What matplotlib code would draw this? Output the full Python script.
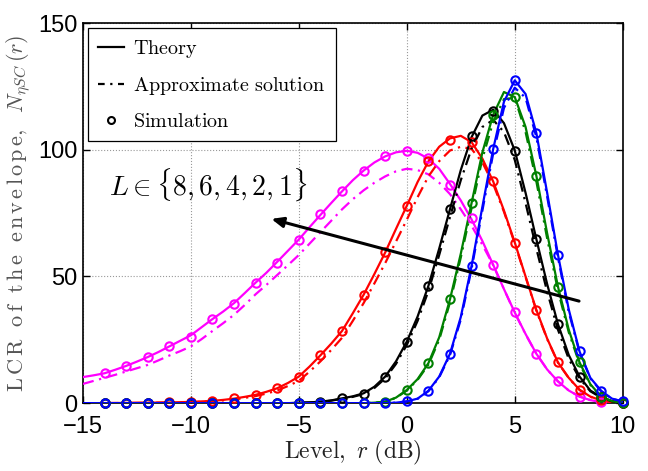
import numpy as np
import matplotlib
matplotlib.use("Agg")
import matplotlib.pyplot as plt
from matplotlib.lines import Line2D

plt.rcParams["mathtext.fontset"] = "cm"

# Level r (dB) for the theory / approximation curves, and for simulation markers
r_fine = np.arange(-15, 10.01, 0.5)
r_sim = np.arange(-14, 11, 1)

# Theory (solid), values read at 0.5 dB steps
th_L1 = [10.3, 11, 11.8, 13.2, 14.7, 16.4, 18.2, 20.2, 22.4, 24.6, 26.8, 30, 33.2, 36.2, 39.5,
         43.5, 47.6, 51.5, 55.8, 60.2, 64.6, 69.5, 74.3, 79, 83.6, 88, 91.8, 95, 97.4, 99, 99.6,
         98.8, 96.5, 92.5, 86.5, 80, 72.5, 64, 54.6, 45, 35.8, 27.3, 19.5, 13.3, 8.6, 5, 2.6,
         1.2, 0.4, 0.1, 0]
th_L2 = [0, 0, 0.05, 0.07, 0.1, 0.15, 0.2, 0.25, 0.3, 0.4, 0.5, 0.7, 0.9, 1.3, 1.8, 2.5, 3.3,
         4.5, 5.9, 8, 10.5, 14.5, 18.9, 23.5, 28.5, 35.5, 42.8, 51, 59.5, 68.8, 77.9, 87.3, 95.4,
         101.2, 104.5, 105.5, 103, 96.5, 87.5, 76, 63.4, 50, 36.8, 25.5, 16.1, 10, 5.3, 2.6,
         1.1, 0.4, 0.1]
th_L4 = [0] * 20 + [0.2, 0.3, 0.6, 1.1, 1.9, 2.7, 3.9, 6.5, 10.5, 16.5, 24.3, 34.2, 46.3, 61,
                    76.6, 92, 105, 113.5, 115.8, 110.5, 99.7, 83, 64.7, 47, 31.2, 19, 10.5, 5,
                    2.4, 0.8, 0.2]
th_L6 = [0] * 27 + [0.2, 0.6, 2.2, 5.2, 9.5, 15.8, 26, 41, 59, 79, 99, 113.8, 122.8, 120.8,
                    109, 89.7, 67, 46, 29, 16.1, 7.5, 2.6, 0.8, 0.2]
th_L8 = [0] * 29 + [0.2, 0.7, 1.8, 4.9, 10.5, 19.5, 34, 54.2, 77.5, 100.3, 119, 127.4, 122,
                    106.6, 83, 58.6, 37, 20.4, 10, 4.9, 1.8, 0.7]

# Approximate solution (dash-dot)
ap_L1 = [7.6, 8.8, 10, 11.2, 12.5, 13.8, 15.1, 16.9, 18.8, 20.5, 22.4, 25.3, 28.5, 31.6, 34.9,
         38.8, 43, 46.7, 50.6, 54.5, 58.5, 63, 67.5, 72, 76.5, 80.5, 84, 87, 89.5, 91.5, 92.5,
         92, 90.3, 87, 82.5, 76.5, 70, 62.5, 54.5, 45, 35.6, 27.2, 19.5, 13.3, 8.6, 5, 2.6,
         1.2, 0.4, 0.1, 0]
ap_L2 = [0, 0, 0.04, 0.06, 0.08, 0.12, 0.16, 0.2, 0.25, 0.32, 0.4, 0.55, 0.7, 1.1, 1.5, 2.1,
         2.8, 3.8, 5, 6.8, 8.8, 12.5, 16.5, 21, 25.8, 32.5, 39.5, 47.3, 55.3, 63.8, 72.4, 81.3,
         89.5, 95.5, 99.7, 101.2, 100.3, 95, 86.5, 75.5, 63, 49.8, 36.5, 25.3, 16, 9.9, 5.2,
         2.5, 1, 0.4, 0.1]
ap_L4 = [0] * 20 + [0.2, 0.3, 0.5, 1, 1.7, 2.5, 3.6, 6, 9.8, 15.5, 23, 32.5, 44.3, 58.5, 73.5,
                    88, 100.5, 109, 111.8, 107, 96, 79, 61, 44, 29, 17.5, 9.8, 4.7, 2.2, 0.7,
                    0.2]
ap_L6 = [0] * 27 + [0.2, 0.6, 2.1, 5, 9.2, 15.2, 25, 39.8, 57.5, 77, 96.5, 111, 120, 120.5,
                    107, 87.5, 65, 44.5, 28, 15.5, 7.2, 2.5, 0.8, 0.2]
ap_L8 = [0] * 29 + [0.2, 0.7, 1.7, 4.7, 10.2, 19, 33, 53, 76, 98.5, 116.5, 124.5, 120.5, 105,
                    81.5, 57.5, 36, 20, 9.8, 4.7, 1.7, 0.7]

# Simulation (circles), 1 dB steps from -14 to 10
sim_L1 = [11.8, 14.7, 18.2, 22.4, 26.3, 33.2, 39.2, 47.6, 55.5, 64.5, 74.6, 83.6, 91.8, 97.4,
          99.7, 96.7, 86.2, 73.0, 54.6, 35.8, 19.5, 8.6, 2.6, 0.3, 0.0]
sim_L2 = [0, 0.1, 0.2, 0.3, 0.4, 0.8, 1.9, 3.2, 5.8, 10.5, 18.9, 28.3, 42.8, 59.5, 77.9, 95.4,
          103.9, 102.9, 87.5, 63.4, 36.8, 16.1, 5.3, 1.1, 0.1]
sim_L4 = [0] * 9 + [0.2, 0.6, 2.0, 3.7, 10.5, 24.3, 46.3, 76.6, 105.3, 115.3, 99.7, 64.7, 31.2,
                    10.5, 2.4, 0.2]
sim_L6 = [0] * 12 + [0.2, 0.6, 5.2, 15.8, 41, 79, 113.8, 120.8, 89.7, 46, 16.1, 2.6, 0.2]
sim_L8 = [0] * 14 + [0.7, 4.9, 19.5, 54.2, 100.3, 127.4, 106.6, 58.6, 20.4, 4.9, 0.7]

series = [
    (th_L1, ap_L1, sim_L1, (1, 0, 1)),
    (th_L2, ap_L2, sim_L2, (1, 0, 0)),
    (th_L4, ap_L4, sim_L4, (0, 0, 0)),
    (th_L6, ap_L6, sim_L6, (0, 0.5, 0)),
    (th_L8, ap_L8, sim_L8, (0, 0, 1)),
]

fig = plt.figure(figsize=(6.48, 4.71), dpi=100)
ax = fig.add_axes([0.128, 0.144, 0.833, 0.807])

for th, ap, sim, col in series:
    ax.plot(r_fine, th, color=col, lw=1.6, zorder=3)
    ax.plot(r_fine, ap, color=col, lw=1.6, dashes=(5, 2.5, 1, 2.5), zorder=3)
    ax.plot(r_sim, sim, ls="none", marker="o", ms=6, mfc="none", mec=col, mew=1.5,
            zorder=4, clip_on=False)

ax.set_xlim(-15, 10)
ax.set_ylim(0, 150)
ax.set_xticks([-15, -10, -5, 0, 5, 10])
ax.set_yticks([0, 50, 100, 150])
ax.grid(True, ls=":", color="#999999", lw=0.8)
ax.tick_params(direction="in", top=True, right=True, length=5, width=1, labelsize=17)
ax.tick_params(axis="x", pad=9)
ax.tick_params(axis="y", pad=4)
for lab in ax.get_xticklabels() + ax.get_yticklabels():
    lab.set_family("Liberation Sans")
for sp in ax.spines.values():
    sp.set_linewidth(1.2)

ax.set_xlabel(r"$\mathrm{Level},\ r\ \mathrm{(dB)}$", fontsize=17, labelpad=0, color="#222222")
ax.set_ylabel(r"$\mathrm{L\,C\,R\ \ o\,f\ \ t\,h\,e\ \ e\,n\,v\,e\,l\,o\,p\,e,}\ \ N_{\eta SC}\,(r)$",
              fontsize=16, labelpad=4, color="#555555")

handles = [
    Line2D([], [], color="k", lw=1.6),
    Line2D([], [], color="k", lw=1.6, dashes=(3, 2.5, 1, 2.5)),
    Line2D([], [], ls="none", marker="o", ms=5, mfc="none", mec="k", mew=1.5),
]
labels = [r"$\mathrm{Theory}$", r"$\mathrm{Approximate\ solution}$", r"$\mathrm{Simulation}$"]
leg = ax.legend(handles, labels, loc="upper left", fontsize=14.5, frameon=True, fancybox=False,
                edgecolor="k", handlelength=1.3, handletextpad=0.45, borderaxespad=0.25,
                labelspacing=0.75, borderpad=0.5)
leg.get_frame().set_linewidth(0.9)
leg.get_frame().set_alpha(1)

ax.text(-9.2, 86, r"$L \in \{8,6,4,2,1\}$", fontsize=20, ha="center", va="center")
ax.annotate("", xy=(-6.4, 73), xytext=(8.1, 40),
            arrowprops=dict(arrowstyle="-|>,head_length=0.7,head_width=0.3", color="k", lw=2.2),
            zorder=5)

fig.savefig("out.png", dpi=100)
